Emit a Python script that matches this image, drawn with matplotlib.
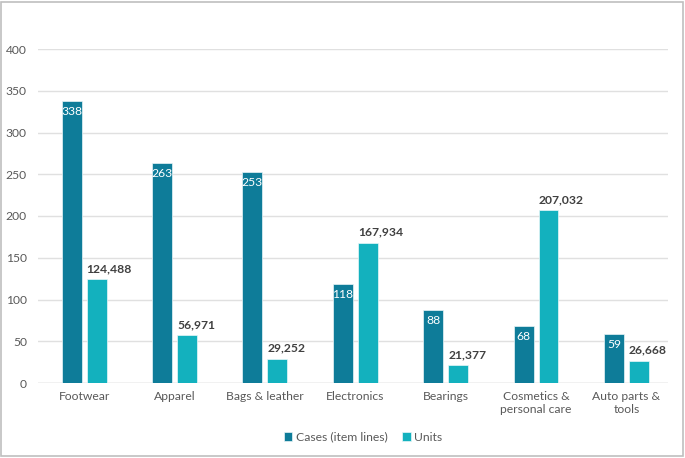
import numpy as np
import matplotlib.pyplot as plt

categories = ["Footwear", "Apparel", "Bags & leather", "Electronics",
              "Bearings", "Cosmetics &\npersonal care", "Auto parts &\ntools"]
cases = [338, 263, 253, 118, 88, 68, 59]
units = [124488, 56971, 29252, 167934, 21377, 207032, 26668]

dark = "#0E7C99"
light = "#13B1BE"
grey = "#595959"

plt.rcParams['font.family'] = ['Lato', 'DejaVu Sans']

fig = plt.figure(figsize=(6.85, 4.58), dpi=100)
ax = fig.add_axes([38/685, 75/458, 630/685, 334/458])

x = np.arange(len(categories))
w = 0.22
off = 0.138
ax.bar(x - off, cases, w, color=dark, edgecolor="#E8F4F7", linewidth=0.5,
       label="Cases (item lines)", zorder=3)
units_k = [u / 1000 for u in units]
ax.bar(x + off, units_k, w, color=light, edgecolor="#E8F7F8", linewidth=0.5,
       label="Units", zorder=3)

for xi, c in zip(x, cases):
    ax.text(xi - off, c - 6, str(c), ha='center', va='top', color='white',
            fontsize=8.7, zorder=4)
for xi, u, uk in zip(x, units, units_k):
    ax.text(xi + off - w/2, uk + 6, f"{u:,}", ha='left', va='bottom',
            color="#404040", fontsize=8.7, fontweight='bold', zorder=4)

ax.set_ylim(0, 400)
ax.set_xlim(-0.51, 6.46)
ax.set_yticks(range(0, 401, 50))
ax.set_xticks(x)
ax.set_xticklabels(categories, fontsize=8.7, color=grey)
ax.tick_params(axis='y', labelsize=8.7, labelcolor=grey, length=0, pad=8)
ax.tick_params(axis='x', length=0, pad=6)
ax.grid(axis='y', color="#E0E0E0", linewidth=1, zorder=0)
for s in ax.spines.values():
    s.set_visible(False)
ax.axhline(0, color="#D9D9D9", linewidth=1, zorder=2)

fig.legend(loc='lower center', bbox_to_anchor=(0.53, 0.01), ncol=2, frameon=False,
           fontsize=8.7, labelcolor=grey, handlelength=0.7, handleheight=0.7,
           handletextpad=0.3, columnspacing=1.2)

border = plt.Rectangle((0.002, 0.004), 0.995, 0.992, transform=fig.transFigure,
                       fill=False, edgecolor="#BFBFBF", linewidth=1.2)
fig.patches.append(border)

fig.savefig("out.png", dpi=100)
